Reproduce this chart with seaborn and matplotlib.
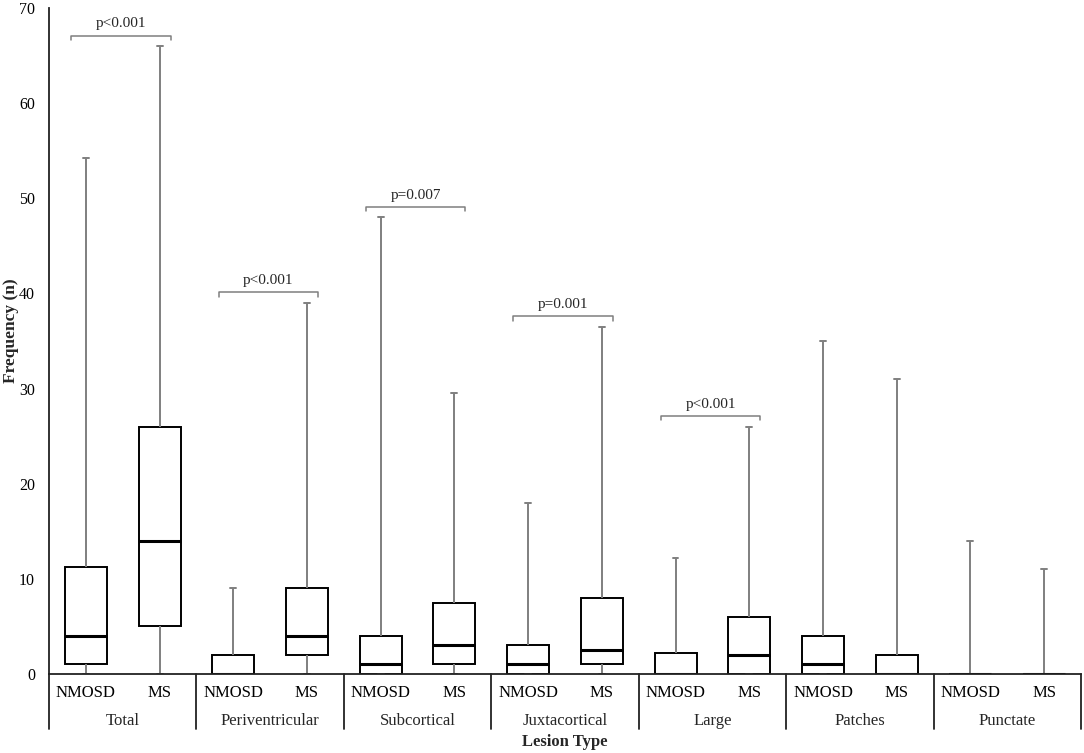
"""
lesion frequency boxplots, NMOSD vs MS
"""
import pandas as pd
import numpy as np
import matplotlib
matplotlib.use('Agg')
import matplotlib.pyplot as plt
import seaborn as sns

sns.set_theme(style='white')
plt.rcParams['font.family'] = ['Liberation Serif', 'DejaVu Serif']

lesion_types = ['Total', 'Periventricular', 'Subcortical', 'Juxtacortical',
                'Large', 'Patches', 'Punctate']
groups = ['NMOSD', 'MS']

# five-number summaries (min, q1, median, q3, max)
nmosd_min = [0, 0, 0, 0, 0, 0, 0]
nmosd_q1 = [1, 0, 0, 0, 0, 0, 0]
nmosd_med = [4, 0, 1, 1, 0, 1, 0]
nmosd_q3 = [11.2, 2, 4, 3, 2.25, 4, 0]
nmosd_max = [54.2, 9, 48, 18, 12.2, 35, 14]

ms_min = [0, 0, 0, 0, 0, 0, 0]
ms_q1 = [5, 2, 1, 1, 0, 0, 0]
ms_med = [14, 4, 3, 2.5, 2, 0, 0]
ms_q3 = [26, 9, 7.5, 8, 6, 2, 0]
ms_max = [66, 39, 29.5, 36.5, 26, 31, 11]

# significance brackets: lesion type -> p label
p_labels = {'Total': 'p<0.001', 'Periventricular': 'p<0.001',
            'Subcortical': 'p=0.007', 'Juxtacortical': 'p=0.001',
            'Large': 'p<0.001'}

summaries = {
    'NMOSD': [nmosd_min, nmosd_q1, nmosd_med, nmosd_q3, nmosd_max],
    'MS': [ms_min, ms_q1, ms_med, ms_q3, ms_max],
}

rows = []
for g in groups:
    for i, lt in enumerate(lesion_types):
        # five points give exactly these quartiles with linear percentiles
        for s in summaries[g]:
            rows.append({'Lesion Type': lt, 'Group': g, 'n': s[i]})
df = pd.DataFrame(rows)

fig = plt.figure(figsize=(10.84, 7.53), dpi=100)
ax = fig.add_axes([0.0452, 0.1049, 0.9520, 0.8845])

sns.boxplot(data=df, x='Lesion Type', y='n', hue='Group',
            order=lesion_types, hue_order=groups,
            palette={'NMOSD': 'white', 'MS': 'white'},
            linecolor='black', linewidth=1.4, saturation=1,
            width=1.0, gap=0.43, whis=(0, 100), legend=False,
            whiskerprops={'color': '#7f7f7f', 'linewidth': 1.4},
            capprops={'color': '#7f7f7f', 'linewidth': 1.4},
            medianprops={'color': 'black', 'linewidth': 2.2},
            capwidths=0.04, ax=ax)

ax.set_xlim(-0.5, len(lesion_types) - 0.5)
ax.set_ylim(0, 70)
ax.set_yticks(np.arange(0, 71, 10))
ax.tick_params(axis='y', length=0, pad=10, labelsize=11.5, colors='black')
sns.despine(ax=ax, top=True, right=True)
for sp in ['left', 'bottom']:
    ax.spines[sp].set_color('#222222')
    ax.spines[sp].set_linewidth(1.3)

# group level ticks (NMOSD / MS)
pos = []
labs = []
for i in range(len(lesion_types)):
    pos += [i - 0.25, i + 0.25]
    labs += groups
ax.set_xticks(pos)
ax.set_xticklabels(labs)
ax.tick_params(axis='x', length=0, pad=8, labelsize=12, colors='black')
ax.set_xlabel('')

# lesion type labels and divider lines
for i, lt in enumerate(lesion_types):
    ax.text(i, -0.070, lt, transform=ax.get_xaxis_transform(),
            ha='center', va='center', fontsize=12)
for b in np.arange(-0.5, len(lesion_types), 1.0):
    ax.axvline(b, ymin=-0.082, ymax=0, color='#222222', lw=1.3, clip_on=False)

ax.text(0.5, -0.102, 'Lesion Type', transform=ax.transAxes,
        ha='center', va='center', fontsize=12, fontweight='bold')
ax.set_ylabel('Frequency (n)', fontsize=12.5, fontweight='bold')
ax.yaxis.set_label_coords(-0.029, 0.515)

# significance brackets
for i, lt in enumerate(lesion_types):
    if lt not in p_labels:
        continue
    top = max(nmosd_max[i], ms_max[i]) + 1.1
    x0 = i - 0.25 - 0.1
    x1 = i + 0.25 + 0.075
    ax.plot([x0, x0, x1, x1], [top - 0.45, top, top, top - 0.45],
            color='#7f7f7f', lw=1.1, clip_on=False)
    ax.text((x0 + x1) / 2, top + 0.55, p_labels[lt], ha='center',
            va='bottom', fontsize=11)

fig.savefig('out.png', dpi=100)
